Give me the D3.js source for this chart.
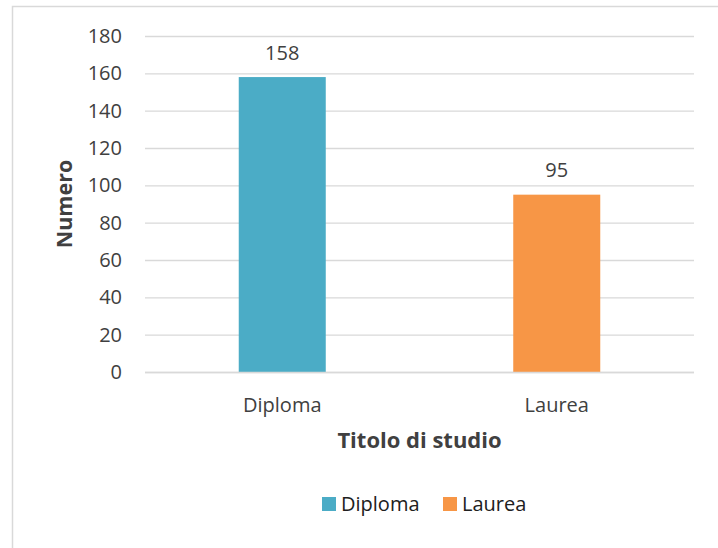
<!DOCTYPE html>
<html><head><meta charset="utf-8">
<script src="https://d3js.org/d3.v7.min.js"></script>
<style>body{margin:0;background:#fff;} text{font-family:"Open Sans","Noto Sans",sans-serif;}</style>
</head><body>
<script>
const categories = ["Diploma", "Laurea"];
const values = [158, 95];
const colors = ["#4BACC6", "#F79646"];
const yTicks = [0, 20, 40, 60, 80, 100, 120, 140, 160, 180];
const xTitle = "Titolo di studio";
const yTitle = "Numero";

(function () {
const W = 718, H = 548;
const svg = d3.select("body").append("svg").attr("width", W).attr("height", H);

// outer border (partially visible)
svg.append("rect").attr("x", 12.5).attr("y", 6.5).attr("width", 720).attr("height", 560)
  .attr("fill", "none").attr("stroke", "#d9d9d9").attr("stroke-width", 1.5);

const pl = 145, pr = 694, pt = 36, pb = 372;
const x = d3.scaleBand().domain(categories).range([pl, pr]).paddingInner(0.683).paddingOuter(0.3415);
const y = d3.scaleLinear().domain([0, 180]).range([pb, pt]);

// gridlines
svg.append("g").selectAll("line").data(yTicks).join("line")
  .attr("x1", pl).attr("x2", pr)
  .attr("y1", d => y(d) + 0.5).attr("y2", d => y(d) + 0.5)
  .attr("stroke", "#d9d9d9").attr("stroke-width", 1.3);

// y axis labels
const yAxis = d3.axisLeft(y).tickValues(yTicks).tickSize(0).tickPadding(23);
const gy = svg.append("g").attr("transform", `translate(${pl},0)`).call(yAxis);
gy.select(".domain").remove();
gy.selectAll("text").attr("font-size", 20).attr("fill", "#404040").attr("font-family", '"Open Sans", sans-serif');

// bars
svg.append("g").selectAll("rect").data(categories).join("rect")
  .attr("x", d => x(d)).attr("width", x.bandwidth())
  .attr("y", (d, i) => y(values[i])).attr("height", (d, i) => y(0) - y(values[i]))
  .attr("fill", (d, i) => colors[i]);

// baseline
svg.append("line").attr("x1", pl).attr("x2", pr).attr("y1", y(0) + 0.5).attr("y2", y(0) + 0.5)
  .attr("stroke", "#d9d9d9").attr("stroke-width", 1.5);

// data labels
svg.append("g").selectAll("text").data(categories).join("text")
  .attr("x", d => x(d) + x.bandwidth() / 2).attr("y", (d, i) => y(values[i]) - 17.5)
  .attr("text-anchor", "middle").attr("font-size", 20).attr("fill", "#404040")
  .text((d, i) => values[i]);

// x axis labels
const xAxis = d3.axisBottom(x).tickSize(0).tickPadding(26);
const gx = svg.append("g").attr("transform", `translate(0,${pb})`).call(xAxis);
gx.select(".domain").remove();
gx.selectAll("text").attr("font-size", 20).attr("fill", "#404040").attr("font-family", '"Open Sans", sans-serif');

// axis titles
svg.append("text").attr("x", (pl + pr) / 2).attr("y", 448).attr("text-anchor", "middle")
  .attr("font-size", 22).attr("font-weight", "bold").attr("fill", "#404040").text(xTitle);
svg.append("text").attr("transform", `translate(72,${(pt + pb) / 2}) rotate(-90)`)
  .attr("text-anchor", "middle").attr("font-size", 21.5).attr("font-weight", "bold").attr("fill", "#404040").text(yTitle);

// legend
const legendX = [322, 443];
const lg = svg.append("g").selectAll("g").data(categories).join("g")
  .attr("transform", (d, i) => `translate(${legendX[i]},497)`);
lg.append("rect").attr("width", 14).attr("height", 14).attr("fill", (d, i) => colors[i]);
lg.append("text").attr("x", 19).attr("y", 14).attr("font-size", 20).attr("fill", "#202020").text(d => d);
})();
</script>
</body></html>
